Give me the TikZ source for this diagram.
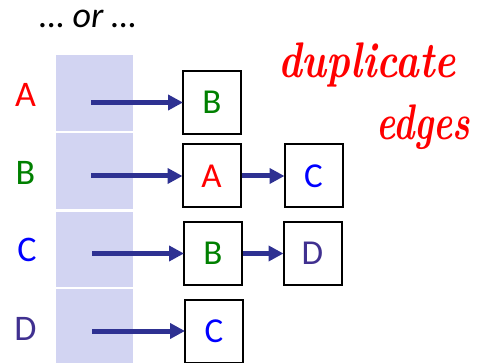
\documentclass[tikz,border=0pt]{standalone}
\usepackage{fontspec}
\setmainfont{Carlito}
\newfontfamily\handfont{Latin Modern Roman}
\usetikzlibrary{arrows.meta}
\definecolor{cellfill}{RGB}{210,212,242}
\definecolor{arrowblue}{RGB}{46,49,146}
\definecolor{lgreen}{RGB}{0,128,0}
\definecolor{lblue}{RGB}{0,0,255}
\definecolor{lred}{RGB}{255,0,0}
\definecolor{lpurple}{RGB}{64,48,144}
\tikzset{
  x=1pt, y=-1pt,
  cell/.style={fill=cellfill, draw=none},
  rowlabel/.style={font=\fontsize{36}{40}\selectfont, inner sep=0pt},
  listbox/.style={draw=black, line width=2pt, fill=white, minimum width=58pt,
    minimum height=63pt, inner sep=0pt, font=\fontsize{35}{40}\selectfont},
  link/.style={draw=arrowblue, line width=5pt,
    -{Triangle[length=15pt,width=15pt]}, shorten >=-1pt},
  ink/.style={text=lred, inner sep=0pt, transform shape,
    font=\handfont\itshape\bfseries\fontsize{50}{50}\selectfont}
}
\begin{document}
\begin{tikzpicture}
\useasboundingbox (0,0) rectangle (479,363);

% heading
\node[font=\itshape\fontsize{36}{40}\selectfont, inner sep=0pt] (heading) at (88,19) {… or …};

% adjacency array cells
\fill[cell] (56,55) rectangle (133,131);
\fill[cell] (56,133) rectangle (133,209);
\fill[cell] (56,212) rectangle (133,287);
\fill[cell] (56,289) rectangle (133,363);

% vertex labels
\node[rowlabel, text=lred]    (va) at (25.5,95)  {A};
\node[rowlabel, text=lgreen]  (vb) at (25.5,173) {B};
\node[rowlabel, text=lblue]   (vc) at (27,250)   {C};
\node[rowlabel, text=lpurple] (vd) at (25.5,329) {D};

% list nodes
\node[listbox, text=lgreen]  (a1) at (212,102.5) {B};
\node[listbox, text=lred]    (b1) at (211.5,176) {A};
\node[listbox, text=lblue]   (b2) at (313.5,176) {C};
\node[listbox, text=lgreen]  (c1) at (213,253.5) {B};
\node[listbox, text=lpurple] (c2) at (312.5,253.5) {D};
\node[listbox, text=lblue]   (d1) at (214,331)   {C};

% array pointers
\coordinate (pa) at (91,102.5);
\coordinate (pb) at (91,176);
\coordinate (pc) at (92,253.5);
\coordinate (pd) at (92,331);
\draw[link] (pa) -- (a1.west);
\draw[link] (pb) -- (b1.west);
\draw[link] (pc) -- (c1.west);
\draw[link] (pd) -- (d1.west);

% next pointers
\draw[link] (b1.east) -- (b2.west);
\draw[link] (c1.east) -- (c2.west);

% annotation
\node[ink, xscale=0.8, anchor=base west] (dup) at (278,78) {duplicate};
\node[ink, xscale=0.72, anchor=base west] (edg) at (376,140) {edges};
\end{tikzpicture}
\end{document}
